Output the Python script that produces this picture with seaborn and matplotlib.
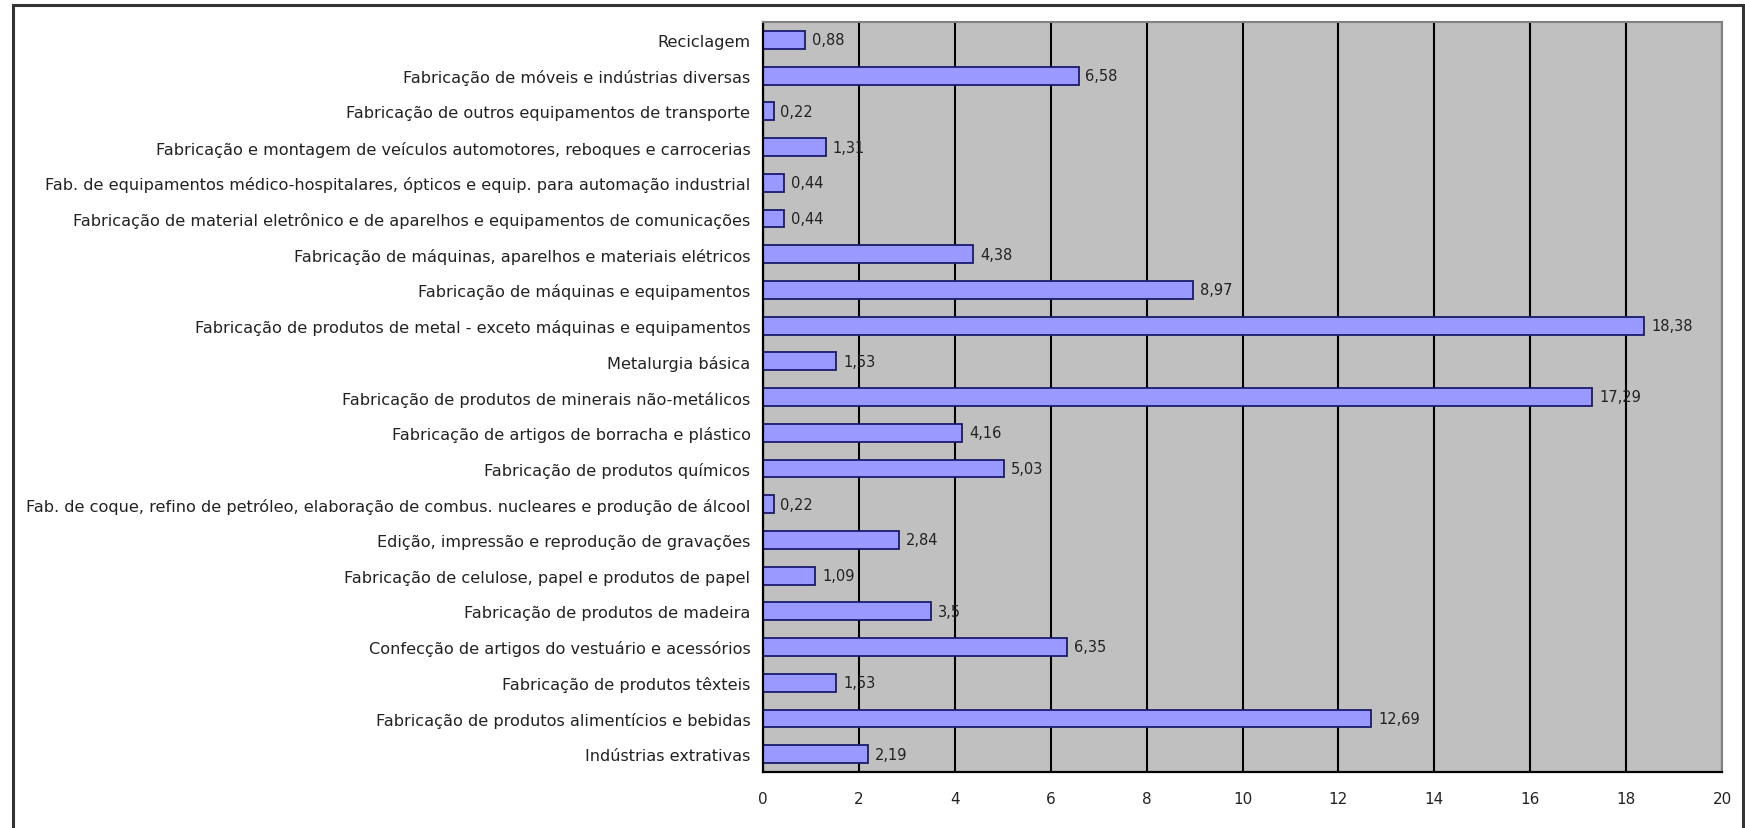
import numpy as np
import pandas as pd
import matplotlib
matplotlib.use("Agg")
import matplotlib.pyplot as plt
import seaborn as sns
from matplotlib.patches import Rectangle

sectors = [
    "Reciclagem",
    "Fabricação de móveis e indústrias diversas",
    "Fabricação de outros equipamentos de transporte",
    "Fabricação e montagem de veículos automotores, reboques e carrocerias",
    "Fab. de equipamentos médico-hospitalares, ópticos e equip. para automação industrial",
    "Fabricação de material eletrônico e de aparelhos e equipamentos de comunicações",
    "Fabricação de máquinas, aparelhos e materiais elétricos",
    "Fabricação de máquinas e equipamentos",
    "Fabricação de produtos de metal - exceto máquinas e equipamentos",
    "Metalurgia básica",
    "Fabricação de produtos de minerais não-metálicos",
    "Fabricação de artigos de borracha e plástico",
    "Fabricação de produtos químicos",
    "Fab. de coque, refino de petróleo, elaboração de combus. nucleares e produção de álcool",
    "Edição, impressão e reprodução de gravações",
    "Fabricação de celulose, papel e produtos de papel",
    "Fabricação de produtos de madeira",
    "Confecção de artigos do vestuário e acessórios",
    "Fabricação de produtos têxteis",
    "Fabricação de produtos alimentícios e bebidas",
    "Indústrias extrativas",
]
shares = [0.88, 6.58, 0.22, 1.31, 0.44, 0.44, 4.38, 8.97, 18.38, 1.53, 17.29,
          4.16, 5.03, 0.22, 2.84, 1.09, 3.5, 6.35, 1.53, 12.69, 2.19]
xticks = [0, 2, 4, 6, 8, 10, 12, 14, 16, 18, 20]

df = pd.DataFrame({"setor": sectors, "valor": shares})

sns.set_style("white")
plt.rcParams["font.family"] = ["DejaVu Sans"]

fig = plt.figure(figsize=(17.45, 8.29), dpi=100)
ax = fig.add_axes([763 / 1745, 1 - 773 / 829, (1722 - 763) / 1745, (773 - 23) / 829])
ax.set_facecolor("#C0C0C0")

sns.barplot(data=df, x="valor", y="setor", orient="h", color="#9999FF",
            saturation=1, width=0.5, edgecolor="#1A1A6E", linewidth=1.3, ax=ax)

# rótulos com vírgula decimal
ax.bar_label(ax.containers[0], labels=[f"{v:g}".replace(".", ",") for v in shares],
             padding=5, fontsize=10.5, color="#222222")

ax.set_xlim(0, 20)
ax.set_xticks(xticks)
ax.set_xticklabels([str(t) for t in xticks], fontsize=11, color="#222222")
ax.xaxis.grid(True, color="black", linewidth=1.5)
ax.set_axisbelow(True)
ax.set_xlabel("")
ax.set_ylabel("")
ax.tick_params(axis="y", length=0, labelsize=11.6, pad=9, labelcolor="#222222")
ax.set_yticks(np.arange(-0.5, len(sectors), 1), minor=True)
ax.tick_params(axis="y", which="minor", length=5, width=1.2, direction="out", color="black")
ax.tick_params(axis="x", length=5, width=1.2, direction="out", color="black", pad=9)

for side in ["left", "bottom"]:
    ax.spines[side].set_color("black")
    ax.spines[side].set_linewidth(1.6)
for side in ["top", "right"]:
    ax.spines[side].set_visible(True)
    ax.spines[side].set_color("#808080")
    ax.spines[side].set_linewidth(1.5)

fig.patches.append(Rectangle((13 / 1745, -0.02), (1743 - 13) / 1745, 1.02 - 6 / 829,
                             transform=fig.transFigure, fill=False,
                             edgecolor="#333333", linewidth=2.2))

fig.savefig("out.png", dpi=100)
